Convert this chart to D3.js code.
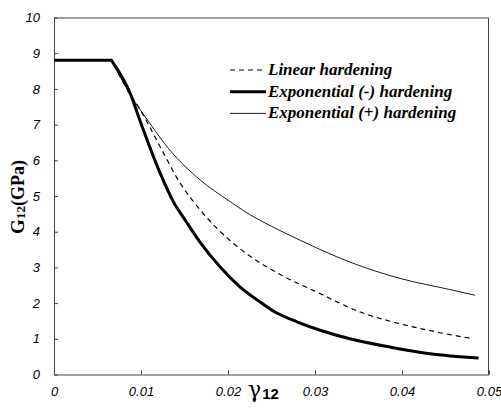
<!DOCTYPE html>
<html><head><meta charset="utf-8">
<script src="https://cdn.jsdelivr.net/npm/d3@7"></script>
<style>body{margin:0;background:#fff}svg{display:block}</style>
</head><body><div id="chart"></div>
<script>
// Data
const xTicks = [0, 0.01, 0.02, 0.03, 0.04, 0.05];
const xTickLabels = ["0", "0.01", "0.02", "0.03", "0.04", "0.05"];
const yTicks = [0,1,2,3,4,5,6,7,8,9,10];
const seriesNames = ["Linear hardening", "Exponential (-) hardening", "Exponential (+) hardening"];
const yieldStrain = 0.0066;

const strainExpMinus = [0, 0.0066, 0.0088, 0.0099, 0.0122, 0.0137, 0.0152, 0.0168, 0.0191, 0.0214, 0.0237, 0.0254, 0.0280, 0.0306, 0.0340, 0.0386, 0.0432, 0.0488];
const gExpMinus      = [8.8, 8.8, 7.85, 7.1, 5.64, 4.85, 4.28, 3.7, 3.01, 2.45, 2.03, 1.75, 1.47, 1.24, 1.0, 0.77, 0.58, 0.46];

const strainLinear = [0, 0.0066, 0.0089, 0.0099, 0.0122, 0.0145, 0.0168, 0.0202, 0.0225, 0.0264, 0.0302, 0.0352, 0.0398, 0.0440, 0.0482];
const gLinear      = [8.8, 8.8, 7.79, 7.42, 6.38, 5.36, 4.61, 3.76, 3.32, 2.75, 2.31, 1.75, 1.42, 1.19, 1.0];

const strainExpPlus = [0, 0.0066, 0.0089, 0.0110, 0.0133, 0.0168, 0.0202, 0.0225, 0.0250, 0.0283, 0.0340, 0.0398, 0.0455, 0.0484];
const gExpPlus      = [8.8, 8.8, 7.79, 7.04, 6.29, 5.45, 4.85, 4.48, 4.15, 3.76, 3.15, 2.69, 2.38, 2.22];

const W = 501, H = 419;
const m = {left: 54, right: 12, top: 17.5, bottom: 44.5};
const svg = d3.select("#chart").append("svg").attr("width", W).attr("height", H);

const x = d3.scaleLinear().domain([0, 0.05]).range([m.left, W - m.right]);
const y = d3.scaleLinear().domain([0, 10]).range([H - m.bottom, m.top]);

// frame
svg.append("rect")
  .attr("x", x(0) + 0.5).attr("y", y(10) + 0.5)
  .attr("width", x(0.05) - x(0) - 1).attr("height", y(0) - y(10))
  .attr("fill", "none").attr("stroke", "#444").attr("stroke-width", 1);

// axes with inward ticks
const xAxis = d3.axisBottom(x).tickValues(xTicks).tickSize(-4).tickFormat((d,i) => xTickLabels[i]).tickPadding(12);
const gx = svg.append("g").attr("transform", `translate(0,${y(0)})`).call(xAxis);
gx.select(".domain").remove();
gx.selectAll(".tick line").attr("stroke", "#444");
gx.selectAll(".tick text").attr("font-family", "Liberation Sans, Arial, sans-serif")
  .attr("font-style", "italic").attr("font-size", 13).attr("fill", "#000");

const yAxis = d3.axisLeft(y).tickValues(yTicks).tickSize(-4).tickPadding(14);
const gy = svg.append("g").attr("transform", `translate(${x(0)},0)`).call(yAxis);
gy.select(".domain").remove();
gy.selectAll(".tick line").attr("stroke", "#444");
gy.selectAll(".tick text").attr("font-family", "Liberation Sans, Arial, sans-serif")
  .attr("font-style", "italic").attr("font-size", 13).attr("fill", "#000");

// lines: straight plateau, smooth hardening branch
const linLine = d3.line().x(d => x(d[0])).y(d => y(d[1]));
const smoothLine = d3.line().x(d => x(d[0])).y(d => y(d[1])).curve(d3.curveMonotoneX);
const zip = (a, b) => a.map((v, i) => [v, b[i]]);
const pathFor = pts => {
  const flat = pts.filter(p => p[0] <= yieldStrain);
  const rest = pts.filter(p => p[0] >= yieldStrain);
  return linLine(flat) + smoothLine(rest).replace(/^M/, "L");
};

const styles = [
  {w: 1.2, dash: "5,4"},
  {w: 3, dash: null},
  {w: 0.9, dash: null}
];
const data = [zip(strainLinear, gLinear), zip(strainExpMinus, gExpMinus), zip(strainExpPlus, gExpPlus)];
const order = [2, 0, 1];
order.forEach(i => {
  svg.append("path").attr("d", pathFor(data[i]))
    .attr("fill", "none").attr("stroke", "#000")
    .attr("stroke-width", styles[i].w)
    .attr("stroke-dasharray", styles[i].dash)
    .attr("stroke-linejoin", "round");
});

// legend
const lg = svg.append("g");
seriesNames.forEach((name, i) => {
  const yy = 70 + i * 21.7;
  lg.append("line").attr("x1", 230).attr("x2", 266).attr("y1", yy).attr("y2", yy)
    .attr("stroke", "#000").attr("stroke-width", styles[i].w).attr("stroke-dasharray", styles[i].dash);
  lg.append("text").attr("x", 268).attr("y", yy + 5).text(name)
    .attr("font-family", "Liberation Serif, Times New Roman, serif")
    .attr("font-weight", "bold").attr("font-style", "italic").attr("font-size", 17).attr("fill", "#000");
});

// x axis title
const xt = svg.append("text").attr("x", 248).attr("y", 397).attr("fill", "#000");
xt.append("tspan").text("γ").attr("font-family", "DejaVu Serif, serif").attr("font-size", 22);
xt.append("tspan").text("12").attr("font-family", "Liberation Sans, Arial, sans-serif")
  .attr("font-weight", "bold").attr("font-size", 15).attr("dy", 2).attr("dx", 1);

// y axis title
const yt = svg.append("text").attr("transform", "translate(24,197) rotate(-90)")
  .attr("text-anchor", "middle").attr("fill", "#000")
  .attr("font-family", "Liberation Serif, Times New Roman, serif").attr("font-weight", "bold");
yt.append("tspan").text("G").attr("font-size", 19);
yt.append("tspan").text("12").attr("font-size", 13).attr("dy", 1);
yt.append("tspan").text("(GPa)").attr("font-size", 18).attr("dy", -1);
</script></body></html>
